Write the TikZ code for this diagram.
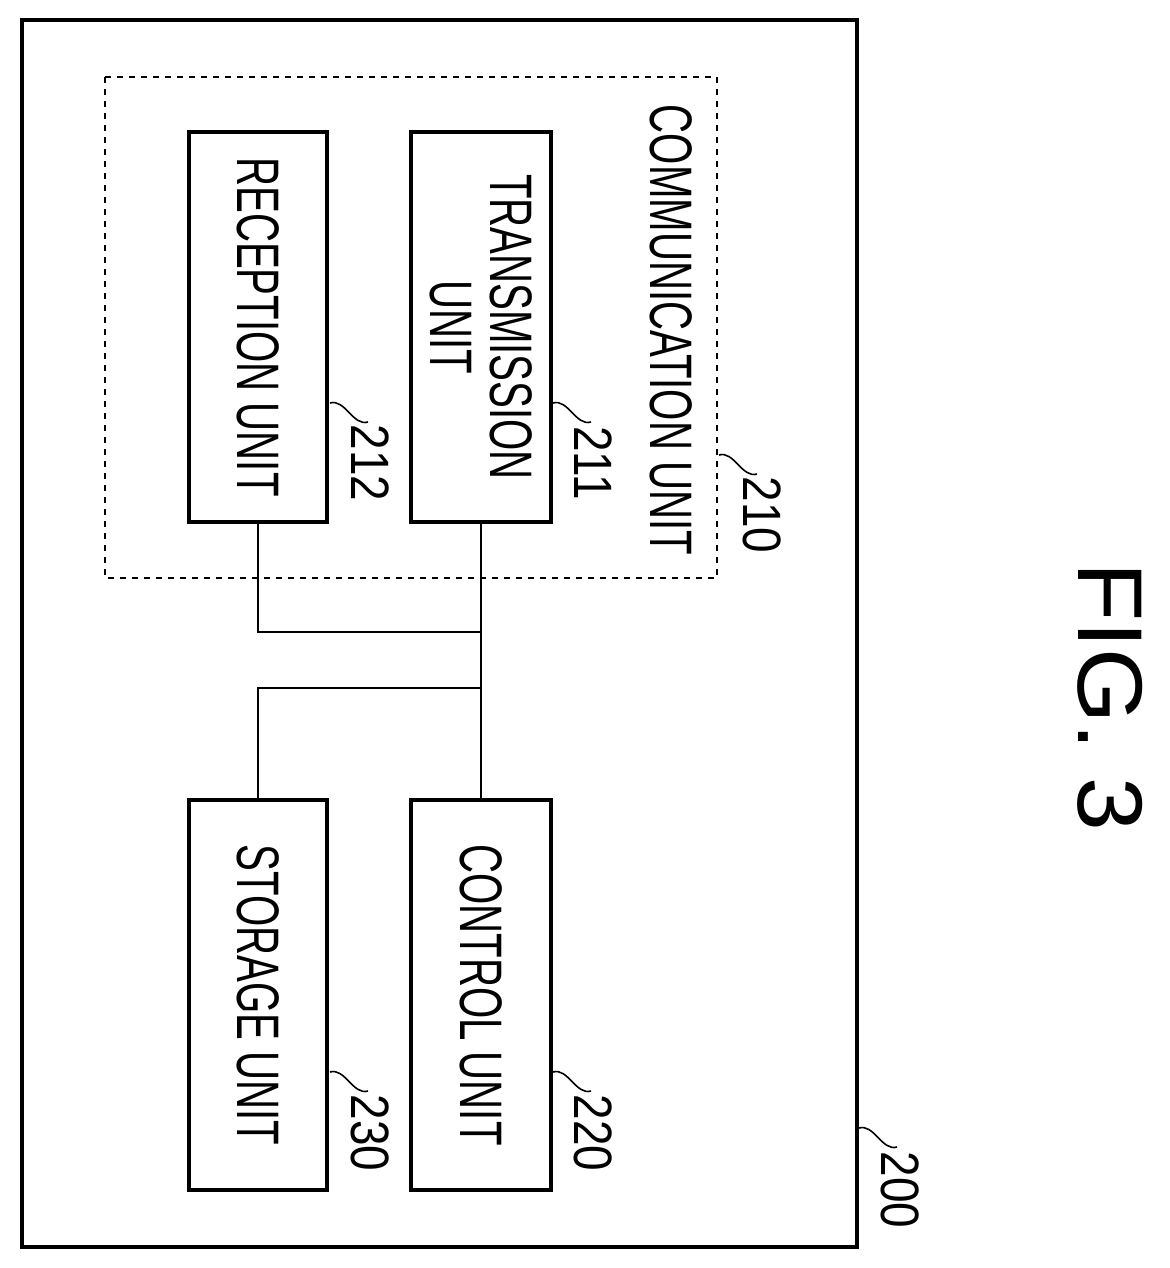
\documentclass[tikz,border=0pt]{standalone}
\usepackage{fontspec}
\setmainfont{Liberation Sans}
\usetikzlibrary{positioning, calc}
\tikzset{
    unitBox/.style={draw, thick, line width=1.6pt},
    unitText/.style={rotate=-90, font=\fontsize{30}{32}\selectfont, align=center},
    refText/.style={rotate=-90, font=\fontsize{27}{28}\selectfont},
    bus/.style={line width=1.2pt},
    squig/.style={line width=0.8pt},
}
\newcommand{\narrow}[1]{\scalebox{0.67}[1]{#1}}
\newcommand{\drawSquig}[2]{
    \draw[squig] (#1) .. controls ($(#1)!0.5!(#2)+(-4,-14)$) and ($(#1)!0.5!(#2)+(4,14)$) .. (#2);
}
\begin{document}
\begin{tikzpicture}[x=0.5pt, y=-0.5pt]
    \useasboundingbox (0,0) rectangle (1170,1268);

    % frames
    \draw[unitBox] (22,20) rectangle (857,1247);
    \draw[dashed, line width=1pt] (105,77) rectangle (717,578);

    % units
    \draw[unitBox] (189,132) rectangle (327,522);
    \draw[unitBox] (411,132) rectangle (551,522);
    \draw[unitBox] (189,800) rectangle (327,1190);
    \draw[unitBox] (411,800) rectangle (551,1190);

    \node[unitText] (rx) at (258,327) {\narrow{RECEPTION UNIT}};
    \node[unitText] (tx) at (481,327) {\narrow{TRANSMISSION}\\[-2pt]\narrow{UNIT}};
    \node[unitText] (comm) at (671,330) {\narrow{COMMUNICATION UNIT}};
    \node[unitText] (store) at (258,995) {\narrow{STORAGE UNIT}};
    \node[unitText] (ctrl) at (481,995) {\narrow{CONTROL UNIT}};

    % bus
    \coordinate (rxB) at (258,522);
    \coordinate (txB) at (481,522);
    \coordinate (stT) at (258,800);
    \coordinate (ctT) at (481,800);
    \draw[bus] (txB) -- (ctT);
    \draw[bus] (rxB) -- (258,632) -- (481,632);
    \draw[bus] (stT) -- (258,688) -- (481,688);

    % reference numerals
    \coordinate (s212a) at (330,403); \coordinate (s212b) at (368,422);
    \coordinate (s211a) at (553,403); \coordinate (s211b) at (591,422);
    \coordinate (s210a) at (719,455); \coordinate (s210b) at (757,474);
    \coordinate (s230a) at (330,1072); \coordinate (s230b) at (368,1091);
    \coordinate (s220a) at (553,1072); \coordinate (s220b) at (591,1091);
    \coordinate (s200a) at (859,1128); \coordinate (s200b) at (897,1147);
    \drawSquig{s212a}{s212b}
    \drawSquig{s211a}{s211b}
    \drawSquig{s210a}{s210b}
    \drawSquig{s230a}{s230b}
    \drawSquig{s220a}{s220b}
    \drawSquig{s200a}{s200b}
    \node[refText] (n212) at (370,463) {\scalebox{0.85}[1]{212}};
    \node[refText] (n211) at (593,463) {\scalebox{0.85}[1]{211}};
    \node[refText] (n210) at (762,515) {\scalebox{0.85}[1]{210}};
    \node[refText] (n230) at (370,1133) {\scalebox{0.85}[1]{230}};
    \node[refText] (n220) at (593,1133) {\scalebox{0.85}[1]{220}};
    \node[refText] (n200) at (900,1190) {\scalebox{0.85}[1]{200}};

    \node[rotate=-90, font=\fontsize{46}{48}\selectfont] (fig) at (1110,697) {\scalebox{1.05}[1]{FIG. 3}};
\end{tikzpicture}
\end{document}
